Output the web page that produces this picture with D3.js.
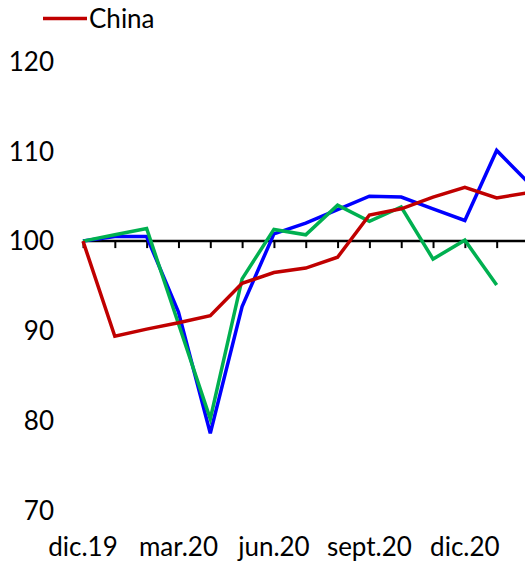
<!DOCTYPE html>
<html>
<head>
<meta charset="utf-8">
<script src="https://cdn.jsdelivr.net/npm/d3@7"></script>
<style>
html,body{margin:0;padding:0;background:#fff;}
svg{display:block;font-family:Lato,"Open Sans",sans-serif;}
</style>
</head>
<body>
<svg id="chart" width="525" height="565"></svg>
<script>
const categories = ["dic.19","ene.20","feb.20","mar.20","abr.20","may.20","jun.20","jul.20","ago.20","sept.20","oct.20","nov.20","dic.20","ene.21","feb.21"];
const tickLabels = ["dic.19","mar.20","jun.20","sept.20","dic.20"];
const yTicks = [70,80,90,100,110,120];
const china = [100, 89.4, 90.2, 90.9, 91.7, 95.3, 96.5, 97.0, 98.2, 102.9, 103.6, 104.9, 106.0, 104.8, 105.4];
const blueSeries = [100, 100.5, 100.5, 92.1, 78.6, 92.7, 100.8, 102.0, 103.5, 105.0, 104.9, 103.6, 102.3, 110.1, 106.5];
const greenSeries = [100, 100.7, 101.4, 90.8, 80.2, 95.8, 101.3, 100.7, 104.0, 102.2, 103.8, 98.0, 100.1, 95.1, null];
const legendLabel = "China";

const svg = d3.select("#chart");
const x = d3.scalePoint().domain(categories).range([83, 528.5]);
const y = d3.scaleLinear().domain([70, 120]).range([510.5, 61.5]);

// y labels
svg.append("g").selectAll("text").data(yTicks).join("text")
  .attr("x", 54).attr("y", d => y(d)).attr("dy", "0.36em")
  .attr("text-anchor", "end").attr("font-size", 26).attr("fill", "#000")
  .text(d => d);

// axis at 100 with ticks
const axisG = svg.append("g").attr("transform", `translate(0,${y(100)})`);
const axis = d3.axisBottom(x).tickSize(7).tickFormat("");
axisG.call(axis);
axisG.select(".domain").attr("d", `M${x(categories[0])},0H525`).attr("stroke", "#000").attr("stroke-width", 2.5);
axisG.selectAll(".tick line").attr("stroke", "#000").attr("stroke-width", 2);

// x labels
svg.append("g").selectAll("text").data(tickLabels).join("text")
  .attr("x", d => x(d)).attr("y", 556)
  .attr("text-anchor", "middle").attr("font-size", 26).attr("fill", "#000")
  .text(d => d);

const line = d3.line()
  .defined(d => d != null)
  .x((d, i) => x(categories[i]))
  .y(d => y(d));

const series = [
  {values: blueSeries, color: "#0000FF"},
  {values: greenSeries, color: "#00B050"},
  {values: china, color: "#C00000"}
];
svg.append("g").selectAll("path").data(series).join("path")
  .attr("d", d => line(d.values))
  .attr("fill", "none").attr("stroke", d => d.color)
  .attr("stroke-width", 3.5).attr("stroke-linejoin", "miter");

// legend
const lg = svg.append("g");
lg.append("line").attr("x1", 43).attr("x2", 87).attr("y1", 18.5).attr("y2", 18.5)
  .attr("stroke", "#C00000").attr("stroke-width", 3.5);
lg.append("text").attr("x", 89).attr("y", 27.5).attr("font-size", 26).attr("fill", "#000").text(legendLabel);
</script>
</body>
</html>
